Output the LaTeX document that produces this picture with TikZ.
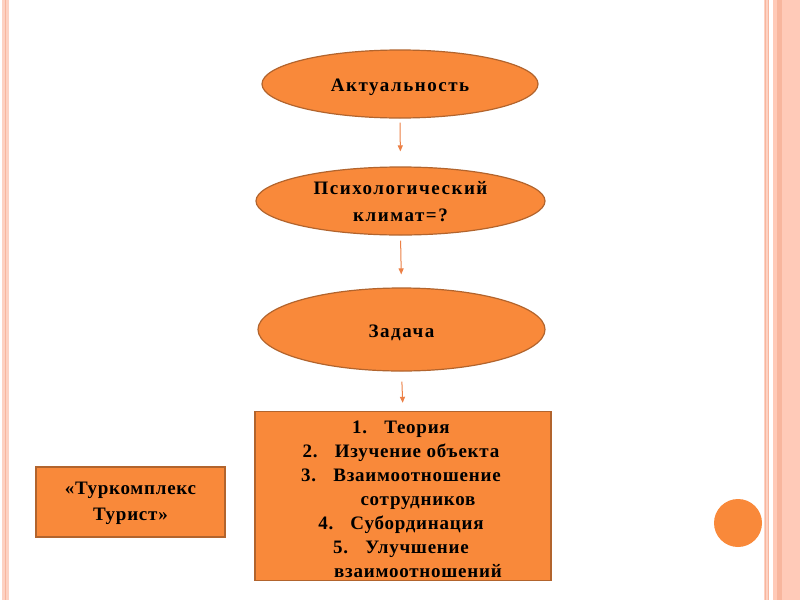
\documentclass[tikz,border=0pt]{standalone}
\usepackage{fontspec}
\setmainfont{Liberation Serif}
\usetikzlibrary{shapes.geometric,arrows.meta}
\definecolor{orfill}{RGB}{249,137,58}
\definecolor{orborder}{RGB}{178,100,45}
\definecolor{arrowcol}{RGB}{236,128,70}
\definecolor{stripe}{RGB}{253,210,195}
\definecolor{stripedark}{RGB}{248,182,158}
\definecolor{peach}{RGB}{255,202,184}
\tikzset{
  ovalnode/.style={ellipse, draw=orborder, line width=1.2pt, fill=orfill, inner sep=0pt},
  boxnode/.style={rectangle, draw=orborder, line width=1.4pt, fill=orfill, inner sep=0pt},
  ovaltext/.style={inner sep=0pt, align=center, font=\fontsize{19}{27}\selectfont\bfseries\addfontfeature{LetterSpace=8}},
  boxtext/.style={inner sep=0pt, align=center, font=\fontsize{19}{24}\selectfont\bfseries\addfontfeature{LetterSpace=4}},
  flowarrow/.style={draw=arrowcol, line width=1pt, -{Triangle[length=6pt,width=5pt]}}
}
\begin{document}
\begin{tikzpicture}[x=1pt,y=-1pt]
\useasboundingbox (0,0) rectangle (800,600);
\fill[white] (0,0) rectangle (800,600);
% left stripe
\fill[stripe] (2,0) rectangle (9,600);
\draw[stripedark, line width=1pt] (5.5,0) -- (5.5,600);
% right stripes
\fill[stripe] (764,0) rectangle (769,600);
\draw[stripedark, line width=0.8pt] (765,0) -- (765,600);
\draw[stripedark, line width=0.8pt] (768,0) -- (768,600);
\fill[peach] (773,0) rectangle (800,600);
\fill[stripedark] (777,0) rectangle (782,600);
% shapes
\node[ovalnode, minimum width=276pt, minimum height=68pt] (e1) at (400,84) {};
\node[ovalnode, minimum width=289pt, minimum height=68pt] (e2) at (400.5,201) {};
\node[ovalnode, minimum width=287pt, minimum height=83pt] (e3) at (401.5,329.5) {};
\node[boxnode, minimum width=296pt, minimum height=169pt] (list) at (403,496) {};
\node[boxnode, minimum width=189pt, minimum height=70pt] (tur) at (130.5,502) {};
\node[circle, fill=orfill, minimum size=48pt, inner sep=0pt] (dot) at (738,523) {};
% texts
\node[ovaltext] (e1t) at ([yshift=-3pt]e1.center) {Актуальность};
\node[ovaltext] (e2t) at ([yshift=-1pt]e2.center) {Психологический\\климат=?};
\node[ovaltext] (e3t) at ([yshift=-3pt]e3.center) {Задача};
\node[boxtext] (listt) at ([xshift=-2pt,yshift=-3pt]list.center) {%
1.\hspace{0.9em}Теория\\
2.\hspace{0.9em}Изучение объекта\\
3.\hspace{0.9em}Взаимоотношение\\
\hspace*{34pt}сотрудников\\
4.\hspace{0.9em}Субординация\\
5.\hspace{0.9em}Улучшение\\
\hspace*{34pt}взаимоотношений};
\node[boxtext, font=\fontsize{19}{26}\selectfont\bfseries\addfontfeature{LetterSpace=4}] (turt) at ([yshift=-1pt]tur.center) {«Туркомплекс\\Турист»};
% arrows
\draw[flowarrow, shorten <=4pt, shorten >=15pt] (e1.south) -- (e2.north);
\draw[flowarrow, shorten <=5pt, shorten >=13pt] (e2.south) -- (e3.north);
\draw[flowarrow, shorten <=10pt, shorten >=8pt] (e3.south) -- (list.north);
\end{tikzpicture}
\end{document}
